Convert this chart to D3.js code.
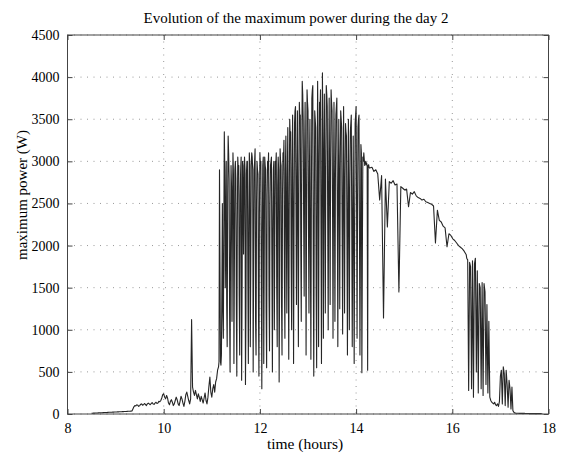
<!DOCTYPE html>
<html>
<head>
<meta charset="utf-8">
<script src="https://cdn.jsdelivr.net/npm/d3@7"></script>
<style>
	body { margin: 0; background: #fff; }
	svg { display: block; font-family: "Liberation Serif", "DejaVu Serif", serif; }
</style>
</head>
<body>
<svg id="chart" width="561" height="455"></svg>
<script>
const title = "Evolution of the maximum power during the day 2";
const xLabel = "time (hours)";
const yLabel = "maximum power (W)";
const xTicks = [8, 10, 12, 14, 16, 18];
const yTicks = [0, 500, 1000, 1500, 2000, 2500, 3000, 3500, 4000, 4500];

// samples, each block starts at its own hour with its own step (h)
const morningStart = 8.50, morningStep = 0.02;
const morningPower = [
	8, 9, 10, 10, 11, 12, 12, 13, 14, 14, 15, 15, 16, 17, 17, 18, 18, 19, 20, 20,
	21, 21, 22, 22, 23, 24, 24, 25, 25, 26, 26, 27, 28, 28, 29, 30, 30, 31, 32, 32,
	33, 34, 35,
	60, 85, 100, 95, 110, 105, 90, 100, 115, 120, 105, 110, 125, 115, 100, 120, 130, 120, 110, 125,
	135, 120, 115, 130, 140, 125, 130, 150, 145, 160, 190, 230,
	240, 200, 180, 220, 190, 130, 110, 150, 170, 140, 100, 120, 160, 200, 170, 120, 100, 150, 210, 180,
	130, 90, 150, 230, 260, 210, 160, 120, 180,
	1120, 320, 260, 220, 280, 230, 180, 240, 200, 150, 210, 170, 130, 190, 250, 160, 120, 200, 330, 440,
	260, 200, 300, 350, 260, 380, 420, 520
];
const middayStart = 11.14, middayStep = 0.01;
const middayPower = [
	560, 620, 2900, 1800, 620, 580, 700, 1500, 2500, 1200,
	900, 2200, 3350, 2900, 1500, 2100, 3000, 1300, 800, 2600,
	3300, 3100, 2800, 1200, 500, 2000, 2950, 2700, 1100, 2400,
	3100, 2850, 600, 1800, 2900, 3000, 2800, 1300, 450, 2200,
	3050, 2900, 2950, 1400, 700, 2600, 2900, 3050, 400, 1500,
	3000, 2950, 1900, 2600, 3050, 2900, 350, 1200, 2850, 3000,
	3000, 1600, 600, 2300, 3100, 2950, 800, 1700, 2950, 3100,
	3050, 2900, 500, 1900, 2900, 3000, 3150, 1100, 700, 2500,
	3000, 2900, 2850, 1300, 450, 2400, 3100, 2950, 3000, 1500,
	300, 2200, 2950, 3050, 600, 1800, 3050, 2950, 2900, 1200,
	550, 2600, 3000, 2900, 3100, 1400, 750, 2500, 2950, 3000,
	3050, 1700, 500, 2300, 2900, 3000, 1000, 2100, 3000, 2950,
	3100, 1500, 800, 2700, 3050, 2900, 380, 1600, 3150, 3000,
	2950, 1300, 700, 2600, 3100, 3000, 3250, 1600, 900, 2900,
	3300, 2200, 1200, 2800, 3400, 1900, 650, 2500, 3500, 3300,
	3350, 1800, 1000, 2900, 3550, 2400, 600, 2300, 3450, 3600,
	3650, 2500, 1300, 2800, 3600, 2100, 800, 2700, 3700, 3500,
	3550, 2000, 1100, 3000, 3950, 3800, 3500, 2300, 1400, 3100,
	3700, 2600, 700, 2400, 3850, 3700, 3600, 2200, 1200, 2900,
	3500, 1900, 650, 2500, 3750, 3850, 3900, 1800, 450, 2300,
	3600, 3500, 3400, 1400, 550, 2700, 3950, 3100, 800, 2600,
	3700, 3600, 3850, 2200, 600, 2500, 4050, 3200, 900, 2800,
	3800, 2600, 1200, 2900, 3900, 3800, 3650, 2300, 1000, 2800,
	3750, 2700, 1300, 3000, 3850, 3700, 3600, 2500, 900, 2600,
	3700, 2600, 1100, 2800, 3550, 3650, 3750, 2400, 800, 2500,
	3500, 2700, 1250, 2900, 3600, 3500, 3400, 2200, 950, 2600,
	3650, 2500, 1200, 2800, 3450, 3350, 3300, 2100, 700, 2400,
	3500, 2300, 1000, 2700, 3350, 3450, 3550, 2200, 800, 2300,
	3300, 2000, 600, 2200, 3450, 3550, 3650, 2500, 900, 2400,
	3400, 3500, 3550, 2200, 700, 2000, 3200, 3100, 490, 1900,
	3050, 3000, 3100, 3020, 2950, 2980, 3000, 2960, 2980, 2940,
	520, 2950, 2960, 2930, 2920
];
const afternoonStart = 14.33, afternoonStep = 0.04;
const afternoonPower = [
	2930, 2880, 2900, 2850, 2540, 2830, 1140, 2790, 2220, 2760,
	2740, 2770, 2720, 2730, 1450, 2700, 2680, 2660, 2670, 2460,
	2630, 2610, 2640, 2590, 2570, 2560, 2540, 2550, 2520, 2510,
	2500, 2490, 2470, 2030, 2420, 2300, 2280, 2230, 2210, 1985,
	2140, 2120, 2080, 2060, 2030, 2000, 1980, 1960, 1930, 1890
];
const eveningStart = 16.30, eveningStep = 0.02;
const eveningPower = [
	1850, 1830, 280, 1800, 1750, 300, 1820, 200, 1780, 1850,
	500, 1700, 250, 1550, 1500, 300, 1560, 220, 1550, 1450,
	350, 1300, 250, 1100, 200, 160, 140, 130, 120, 140,
	110, 100, 120, 90, 150, 450, 520, 120, 560, 480,
	100, 520, 350, 80, 400, 300, 60, 320, 40, 20,
	12, 10, 9, 9, 8, 8, 8, 7, 7, 7,
	7, 6, 6, 6, 6, 6, 5, 5, 5, 5,
	5, 5, 5, 5, 5, 5, 5, 5, 5
];

const blocks = [
	[morningStart, morningStep, morningPower],
	[middayStart, middayStep, middayPower],
	[afternoonStart, afternoonStep, afternoonPower],
	[eveningStart, eveningStep, eveningPower]
];
const series = [];
blocks.forEach(([start, step, vals]) => {
	vals.forEach((v, i) => series.push([start + i * step, v]));
});

const svg = d3.select("#chart");
const plotL = 67.5, plotR = 548.5, plotT = 35, plotB = 414;
const xScale = d3.scaleLinear().domain([8, 18]).range([plotL, plotR]);
const yScale = d3.scaleLinear().domain([0, 4500]).range([plotB, plotT]);

// dotted grid
svg.append("g")
	.selectAll("line")
	.data(xTicks)
	.join("line")
	.attr("x1", d => xScale(d))
	.attr("x2", d => xScale(d))
	.attr("y1", plotT)
	.attr("y2", plotB)
	.attr("stroke", "#999")
	.attr("stroke-width", 1)
	.attr("stroke-dasharray", "1,5.5");
svg.append("g")
	.selectAll("line")
	.data(yTicks)
	.join("line")
	.attr("x1", plotL)
	.attr("x2", plotR)
	.attr("y1", d => yScale(d))
	.attr("y2", d => yScale(d))
	.attr("stroke", "#999")
	.attr("stroke-width", 1)
	.attr("stroke-dasharray", "1,5.5");

const lineGen = d3.line()
	.x(d => xScale(d[0]))
	.y(d => yScale(d[1]));
svg.append("path")
	.attr("d", lineGen(series))
	.attr("fill", "none")
	.attr("stroke", "#262626")
	.attr("stroke-width", 1.1)
	.attr("stroke-linejoin", "round");

// axes with inward ticks, MATLAB style
const styleAxis = g => {
	g.select(".domain").remove();
	g.selectAll(".tick line").attr("stroke", "#444");
	g.selectAll("text").attr("font-size", "14px").attr("fill", "#000")
		.attr("font-family", "'Liberation Serif', serif");
};
svg.append("g")
	.attr("transform", `translate(0,${plotB})`)
	.call(d3.axisBottom(xScale).tickValues(xTicks).tickSize(-5).tickPadding(9).tickFormat(d3.format("d")))
	.call(styleAxis);
svg.append("g")
	.attr("transform", `translate(0,${plotT})`)
	.call(d3.axisTop(xScale).tickValues(xTicks).tickSize(-5).tickFormat(""))
	.call(styleAxis);
svg.append("g")
	.attr("transform", `translate(${plotL},0)`)
	.call(d3.axisLeft(yScale).tickValues(yTicks).tickSize(-5).tickPadding(8).tickFormat(d3.format("d")))
	.call(styleAxis);
svg.append("g")
	.attr("transform", `translate(${plotR},0)`)
	.call(d3.axisRight(yScale).tickValues(yTicks).tickSize(-5).tickFormat(""))
	.call(styleAxis);

svg.append("rect")
	.attr("x", plotL)
	.attr("y", plotT)
	.attr("width", plotR - plotL)
	.attr("height", plotB - plotT)
	.attr("fill", "none")
	.attr("stroke", "#444")
	.attr("stroke-width", 1);

svg.append("text")
	.attr("x", 296)
	.attr("y", 23)
	.attr("text-anchor", "middle")
	.attr("font-size", "15px")
	.text(title);
svg.append("text")
	.attr("x", 305)
	.attr("y", 449)
	.attr("text-anchor", "middle")
	.attr("font-size", "15.5px")
	.text(xLabel);
svg.append("text")
	.attr("transform", "translate(27,195) rotate(-90)")
	.attr("text-anchor", "middle")
	.attr("font-size", "15px")
	.text(yLabel);
</script>
</body>
</html>
